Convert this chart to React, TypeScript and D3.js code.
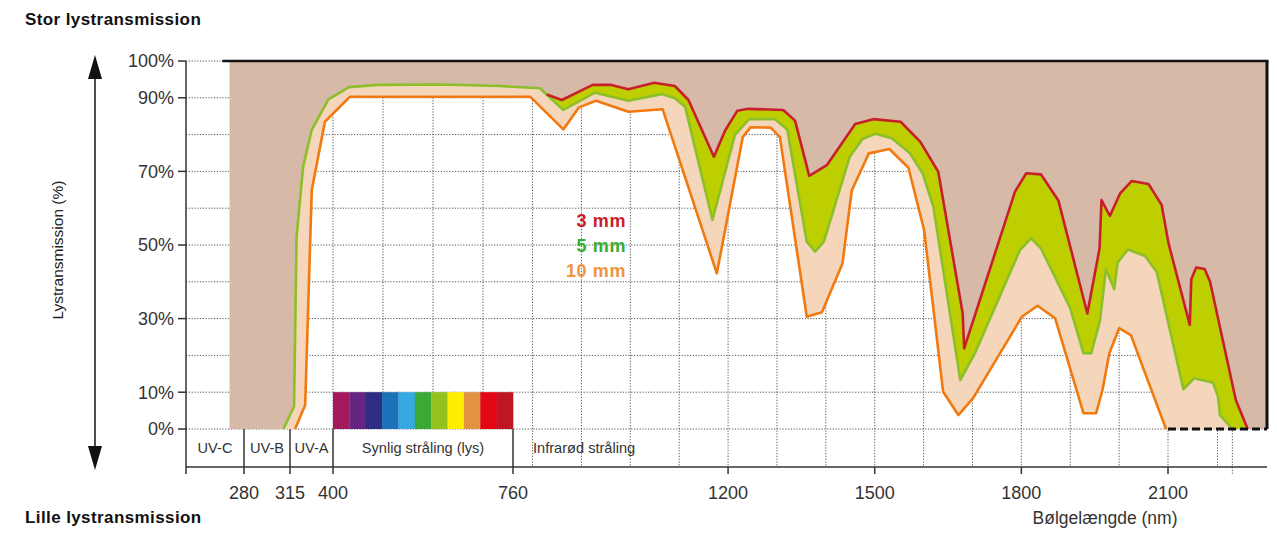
import React from 'react';
import * as d3 from 'd3';

type Pt = [number, number];

const W = 1277;
const H = 534;

// wavelength (nm) / transmission (%)
const transmission5mm: Pt[] = [
  [310, 0], [323, 6.1], [328, 52.3], [341, 71.3], [358, 81.3], [391, 89.6], [432, 92.9], [491, 93.5],
  [614, 93.6], [734, 93.2], [815, 92.6], [863, 86.7], [928, 91.4], [996, 89.2], [1064, 91.0], [1091, 89.9],
  [1112, 87.6], [1168, 56.8], [1214, 79.9], [1243, 84.2], [1296, 84.2], [1321, 81.4], [1361, 50.9],
  [1378, 48.2], [1396, 50.9], [1449, 74.0], [1475, 78.8], [1501, 80.2], [1535, 79.0], [1572, 74.9],
  [1598, 69.5], [1620, 60.4], [1675, 13.3], [1705, 20.6], [1797, 48.6], [1820, 51.8], [1840, 49.1],
  [1900, 32.8], [1927, 20.6], [1943, 20.6], [1961, 29.6], [1973, 43.4], [1990, 38.0], [1997, 45.2],
  [2018, 48.8], [2053, 47.0], [2077, 42.7], [2131, 10.8], [2153, 13.8], [2191, 12.6], [2201, 8.8],
  [2205, 3.8], [2230, 0],
];

// 3 mm follows the 5 mm curve below 829 nm
const transmission3mm: Pt[] = [
  [829, 90.9], [860, 89.4], [923, 93.5], [961, 93.5], [996, 92.3], [1049, 94.1], [1091, 93.2], [1119, 89.4],
  [1171, 74.0], [1194, 81.1], [1219, 86.5], [1241, 87.0], [1313, 86.7], [1337, 83.8], [1366, 68.8],
  [1402, 71.7], [1460, 82.9], [1497, 84.2], [1553, 83.5], [1593, 78.1], [1630, 69.9], [1680, 31.4],
  [1683, 21.9], [1787, 64.5], [1810, 69.5], [1840, 69.2], [1876, 62.0], [1935, 31.4], [1960, 49.1],
  [1964, 62.2], [1981, 57.9], [2002, 64.0], [2026, 67.4], [2060, 66.6], [2087, 60.9], [2101, 50.5],
  [2144, 28.3], [2147, 40.7], [2157, 43.9], [2174, 43.5], [2185, 40.0], [2237, 7.9], [2261, 0],
];

const transmission10mm: Pt[] = [
  [325, 0], [345, 6.5], [358, 64.9], [384, 83.5], [434, 90.3], [795, 90.3], [863, 81.4], [895, 87.4],
  [930, 89.2], [996, 86.2], [1066, 86.9], [1177, 42.3], [1230, 79.3], [1246, 82.0], [1287, 81.9],
  [1306, 79.3], [1361, 30.5], [1392, 31.7], [1434, 45.0], [1453, 64.8], [1488, 74.9], [1530, 76.1],
  [1569, 71.0], [1601, 54.1], [1640, 10.1], [1671, 3.8], [1701, 8.3], [1801, 30.5], [1833, 33.5],
  [1869, 30.1], [1927, 4.3], [1953, 4.3], [1966, 10.6], [1980, 20.6], [2000, 27.4], [2024, 25.5],
  [2096, 0],
];

const opaqueStartNm = 260;
const domainEndNm = 2300;

const xTickLabels = [280, 315, 400, 760, 1200, 1500, 1800, 2100];
const bandBoundaries = [280, 315, 400, 760];
const yTickLabels = [0, 10, 30, 50, 70, 90, 100];
const yGrid = [0, 10, 20, 30, 40, 50, 60, 70, 80, 90, 100];
const xGridVisible = [400, 500, 600, 700];
const xGridIR = [800, 900, 1000, 1100, 1200, 1300, 1400, 1500, 1600, 1700, 1800, 1900, 2000, 2100, 2200, 2230];

const regionNames = ['UV-C', 'UV-B', 'UV-A', 'Synlig stråling (lys)', 'Infrarød stråling'];
const regionStarts = [200, 280, 315, 400, 760];
const regionEnds = [280, 315, 400, 760, 2300];

const spectrumColors = ['#a3195b', '#662483', '#2d2e83', '#1d71b8', '#36a9e1', '#3aaa35', '#95c11f', '#ffed00', '#e39242', '#e30613', '#be1622'];

const legendLabels = ['3 mm', '5 mm', '10 mm'];
const legendColors = ['#c8202a', '#3aaa35', '#ef9442'];

const FONT = '"Liberation Sans", Arial, Helvetica, sans-serif';

export default function App() {
  const x = d3.scaleLinear()
    .domain([200, 280, 315, 400, 760, 2100, 2300])
    .range([186, 244, 290, 333, 513, 1168, 1267]);
  const y = d3.scaleLinear().domain([0, 100]).range([429, 61]);

  const line = d3.line<Pt>().x(d => x(d[0])).y(d => y(d[1]));

  const redFull: Pt[] = [[opaqueStartNm, 0], ...transmission5mm.filter(d => d[0] < transmission3mm[0][0]), ...transmission3mm, [domainEndNm, 0]];
  const greenFull: Pt[] = [[opaqueStartNm, 0], ...transmission5mm, [domainEndNm, 0]];
  const orangeFull: Pt[] = [[opaqueStartNm, 0], ...transmission10mm, [domainEndNm, 0]];
  const topFull: Pt[] = [[opaqueStartNm, 100], [domainEndNm, 100]];

  const poly = (upper: Pt[], lower: Pt[]) => (line([...upper, ...lower.slice().reverse()]) || '') + 'Z';

  const y0 = y(0);
  const axisY = 467;
  const xLeft = x(200);
  const xRight = x(domainEndNm);
  const band = d3.scaleBand<number>().domain(spectrumColors.map((_, i) => i)).range([x(400), x(760)]);

  return (
    <svg width={W} height={H} style={{ position: 'absolute', left: 0, top: 0, background: '#fff' }} fontFamily={FONT}>
      {/* grid */}
      <g stroke="#555" strokeWidth={1} strokeDasharray="1.2,1.6">
        {yGrid.map(v => (
          <line key={'hy' + v} x1={xLeft} x2={xRight} y1={y(v)} y2={y(v)} />
        ))}
        {xGridVisible.map(v => (
          <line key={'vv' + v} x1={x(v)} x2={x(v)} y1={y(100)} y2={y0} />
        ))}
        {xGridIR.map(v => (
          <line key={'vi' + v} x1={x(v)} x2={x(v)} y1={y(100)} y2={v === 2230 ? axisY + 7 : axisY} />
        ))}
      </g>

      {/* fills */}
      <path d={poly(topFull, redFull)} fill="#d7b9a8" />
      <path d={poly(redFull, greenFull)} fill="#bdcf00" />
      <path d={poly(greenFull, orangeFull)} fill="#f6d6ba" />

      {/* curves */}
      <path d={line(transmission10mm) || ''} fill="none" stroke="#f07a10" strokeWidth={2.6} strokeLinejoin="round" />
      <path d={line(transmission5mm) || ''} fill="none" stroke="#8cbf2a" strokeWidth={2.6} strokeLinejoin="round" />
      <path d={line(transmission3mm) || ''} fill="none" stroke="#c8202a" strokeWidth={2.6} strokeLinejoin="round" />

      {/* frame */}
      <line x1={x(250)} x2={xRight + 1.5} y1={y(100)} y2={y(100)} stroke="#111" strokeWidth={2.5} />
      <line x1={xRight} x2={xRight} y1={y(100)} y2={y0} stroke="#111" strokeWidth={3} />
      <line x1={x(2100)} x2={xRight} y1={y0} y2={y0} stroke="#111" strokeWidth={3} strokeDasharray="8,4" />

      {/* spectrum bar */}
      {spectrumColors.map((c, i) => (
        <rect key={c + i} x={band(i)} y={y(10)} width={band.bandwidth() + 0.3} height={y0 - y(10)} fill={c} />
      ))}

      {/* y axis */}
      <line x1={xLeft} x2={xLeft} y1={y(100)} y2={axisY + 7} stroke="#333" strokeWidth={1.5} />
      {yTickLabels.map(v => (
        <g key={'yt' + v}>
          <line x1={xLeft - 8} x2={xLeft} y1={y(v)} y2={y(v)} stroke="#333" strokeWidth={1.5} />
          <text x={xLeft - 12} y={y(v)} dy="0.36em" textAnchor="end" fontSize={18} fill="#333">{v}%</text>
        </g>
      ))}

      {/* x axis */}
      <line x1={xLeft} x2={xRight} y1={axisY} y2={axisY} stroke="#333" strokeWidth={1.5} />
      {xTickLabels.map(v => (
        <g key={'xt' + v}>
          {bandBoundaries.includes(v)
            ? <line x1={x(v)} x2={x(v)} y1={y0} y2={axisY + 7} stroke="#333" strokeWidth={1.5} />
            : <line x1={x(v)} x2={x(v)} y1={axisY} y2={axisY + 7} stroke="#333" strokeWidth={1.5} />}
          <text x={x(v)} y={499} textAnchor="middle" fontSize={18} fill="#333">{v}</text>
        </g>
      ))}

      {/* region labels */}
      {regionNames.map((name, i) => {
        const last = i === regionNames.length - 1;
        return (
          <text key={name} x={last ? x(regionStarts[i]) + 20 : (x(regionStarts[i]) + x(regionEnds[i])) / 2}
            y={453} textAnchor={last ? 'start' : 'middle'} fontSize={14.6} fill="#333">{name}</text>
        );
      })}

      {/* legend */}
      {legendLabels.map((l, i) => (
        <text key={l} x={626} y={227 + i * 25} textAnchor="end" fontSize={18} letterSpacing={0.6} fontWeight="bold" fill={legendColors[i]}>{l}</text>
      ))}

      {/* arrow & titles */}
      <line x1={95} x2={95} y1={74} y2={452} stroke="#111" strokeWidth={1.5} />
      <path d="M95,55 L88,79 L102,79 Z" fill="#111" />
      <path d="M95,470 L88,446 L102,446 Z" fill="#111" />
      <text transform="translate(63,250) rotate(-90)" textAnchor="middle" fontSize={15.5} fill="#222">Lystransmission (%)</text>
      <text x={25} y={25} fontSize={17} letterSpacing={0.4} fontWeight="bold" fill="#111">Stor lystransmission</text>
      <text x={25} y={523} fontSize={17} letterSpacing={0.4} fontWeight="bold" fill="#111">Lille lystransmission</text>
      <text x={1105} y={524} textAnchor="middle" fontSize={17.5} fill="#333">Bølgelængde (nm)</text>
    </svg>
  );
}
